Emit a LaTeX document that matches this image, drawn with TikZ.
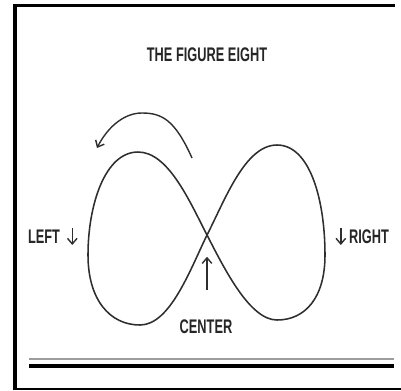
\documentclass[tikz,border=0pt]{standalone}
\usepackage{fontspec}
\newfontfamily\lblfont[FakeStretch=0.65]{Liberation Sans}
\usetikzlibrary{arrows.meta}
\definecolor{inkc}{HTML}{2E2E2E}
\definecolor{rulec}{HTML}{9C9C9C}
\tikzset{
  >={Straight Barb[length=1.4mm,width=2.4mm]},
  lbl/.style={font=\lblfont\bfseries\fontsize{14}{15}\selectfont,text=black!85,inner sep=0pt},
  eight/.style={draw=inkc,line width=1.1pt},
  turn/.style={->,draw=inkc,line width=1pt},
  bar/.style={draw=#1,line cap=butt},
}

\begin{document}
\begin{tikzpicture}[x=0.025cm,y=-0.025cm]
  \useasboundingbox (0,0) rectangle (401,390);
  % frame
  \draw[bar=black,line width=0.1cm] (15,5) -- (15,389);
  \draw[bar=black,line width=0.075cm] (13,5.5) -- (395,5.5);
  \draw[bar=black,line width=0.04cm] (13,389) -- (401,389);
  \draw[bar=rulec,line width=0.05cm] (29,358.5) -- (394,358.5);
  \draw[bar=black,line width=0.1cm] (29,366) -- (394,366);
  % labels
  \node[lbl] (title) at (207,55) {THE FIGURE EIGHT};
  \node[lbl] (left) at (44,237) {LEFT};
  \node[lbl] (right) at (369,237) {RIGHT};
  \node[lbl] (center) at (206,327) {CENTER};
  % the figure eight
  \coordinate (cross) at (207,235);
  \draw[eight] (cross) .. controls (189,200) and (168,152) .. (138,152)
    .. controls (105,152) and (88,205) .. (88,255)
    .. controls (88,300) and (110,325) .. (140,325)
    .. controls (170,325) and (190,270) .. (cross)
    .. controls (225,200) and (245,145) .. (277,145)
    .. controls (310,145) and (325,200) .. (325,255)
    .. controls (325,298) and (305,320) .. (277,320)
    .. controls (250,320) and (225,270) .. (cross);
  % direction arrows
  \coordinate (sweepA) at (192,158);
  \coordinate (sweepB) at (97,148);
  \draw[turn] (sweepA) .. controls (175,120) and (162,113) .. (142,113)
    .. controls (122,113) and (106,130) .. (sweepB);
  \draw[turn] (left.east) ++(12,-9) coordinate (lA) -- ++(0,17) coordinate (lB);
  \draw[turn] (right.west) ++(-8,-9) coordinate (rA) -- ++(0,17) coordinate (rB);
  \draw[turn] (center.north) ++(1,-30) coordinate (cA) -- ++(0,-33) coordinate (cB);
\end{tikzpicture}
\end{document}
